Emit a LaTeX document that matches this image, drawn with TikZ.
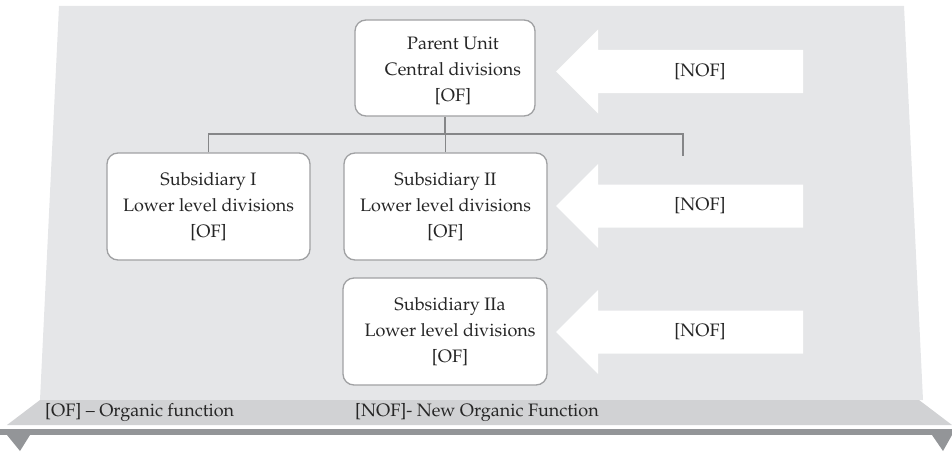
\documentclass[tikz,border=0pt]{standalone}
\usepackage[T1]{fontenc}
\usepackage{mathpazo}
\definecolor{panelgray}{HTML}{E5E6E8}
\definecolor{bargray}{HTML}{D1D2D4}
\definecolor{darkgray}{HTML}{939598}
\definecolor{boxgray}{HTML}{A0A1A3}
\definecolor{linegray}{HTML}{858688}
\begin{document}
\begin{tikzpicture}[x=1pt,y=-1pt,
  unit/.style={draw=boxgray, line width=1.3pt, fill=white, rounded corners=11pt,
    minimum width=203pt, minimum height=107pt, inner sep=0pt},
  lbl/.style={font=\fontsize{18}{26}\selectfont, align=center, text=black!85, inner sep=0pt},
  link/.style={draw=linegray, line width=1.4pt},
  nofarrow/.style={fill=white}]
\useasboundingbox (0,0) rectangle (952,452);

% background panel and base bar
\fill[panelgray] (59,6) -- (904,6) -- (923,400) -- (40,400) -- cycle;
\fill[bargray] (40,400) -- (919,400) -- (952,425) -- (7,425) -- cycle;
\fill[darkgray] (0,429) rectangle (952,435);
\fill[darkgray] (7,435) -- (30,435) -- (20,451) -- cycle;
\fill[darkgray] (932,435) -- (952,435) -- (943,451) -- cycle;

% units
\node[unit, minimum width=180pt, minimum height=96pt] (parent) at (445,68) {};
\node[lbl] (parenttxt) at ([xshift=8pt,yshift=-3pt]parent.center) {Parent Unit\\Central divisions\\{[OF]}};
\node[unit] (subI) at (208.5,206.5) {};
\node[lbl] (subItxt) at (subI.center) {Subsidiary I\\Lower level divisions\\{[OF]}};
\node[unit] (subII) at (445.5,206.5) {};
\node[lbl] (subIItxt) at (subII.center) {Subsidiary II\\Lower level divisions\\{[OF]}};
\node[unit, minimum width=204pt] (subIIa) at (445,331.5) {};
\node[lbl] (subIIatxt) at ([xshift=5pt]subIIa.center) {Subsidiary IIa\\Lower level divisions\\{[OF]}};

% organisation links
\coordinate (bus) at (445,134);
\coordinate (stub) at (683,134);
\coordinate (stubend) at (683,156);
\draw[link] (parent.south) -- (bus);
\draw[link] (subI.north) |- (stub) -- (stubend);
\draw[link] (subII.north) -- (subII.north |- bus);

% incoming new organic functions
\foreach \yc/\nm in {71.5/nofA, 206/nofB, 332/nofC}{
  \fill[nofarrow] (556,\yc) -- (598,\yc-42) -- (598,\yc-21.5) -- (803,\yc-21.5)
    -- (803,\yc+21.5) -- (598,\yc+21.5) -- (598,\yc+42) -- cycle;
  \node[lbl] (\nm) at (700,\yc) {[NOF]};
}

% legend
\node[lbl, anchor=west] (legOF) at (45,413) {[OF] -- Organic function};
\node[lbl, anchor=west] (legNOF) at (355,413) {[NOF]- New Organic Function};
\end{tikzpicture}
\end{document}
